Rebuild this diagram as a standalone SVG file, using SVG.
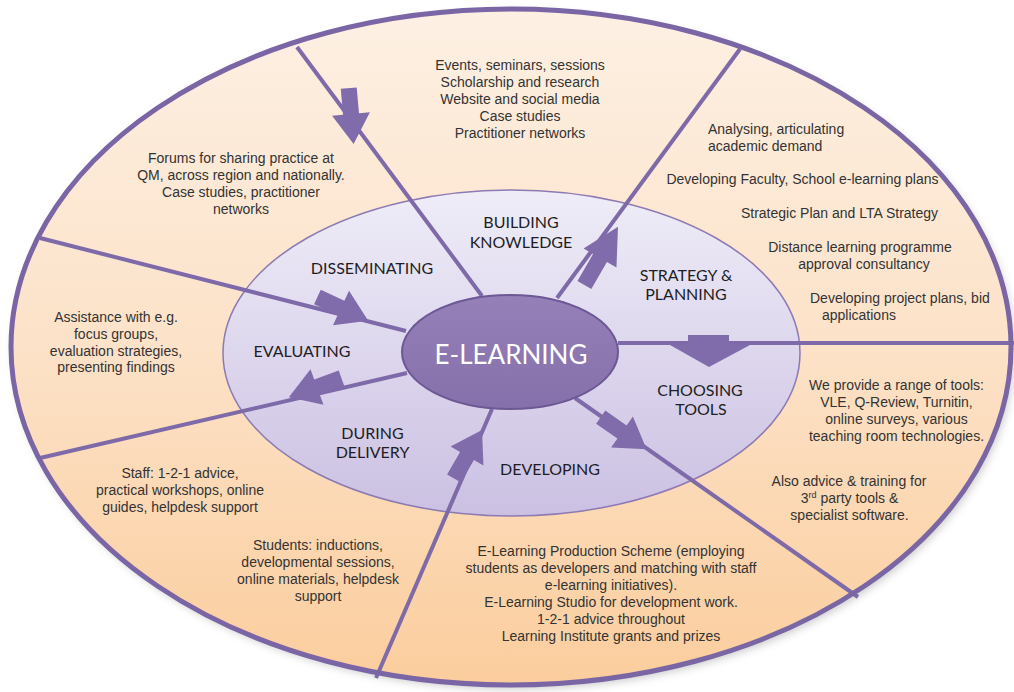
<svg xmlns="http://www.w3.org/2000/svg" width="1014" height="692" viewBox="0 0 1014 692">
<defs>
  <linearGradient id="peach" x1="0" y1="0" x2="0" y2="1">
    <stop offset="0" stop-color="#fdf0e3"/>
    <stop offset="0.5" stop-color="#fce2c8"/>
    <stop offset="1" stop-color="#fbcd9d"/>
  </linearGradient>
  <linearGradient id="lav" x1="0" y1="0" x2="0" y2="1">
    <stop offset="0" stop-color="#efedf8"/>
    <stop offset="1" stop-color="#cbc0e2"/>
  </linearGradient>
  <linearGradient id="core" x1="0" y1="0" x2="0" y2="1">
    <stop offset="0" stop-color="#9580b8"/>
    <stop offset="1" stop-color="#8570ab"/>
  </linearGradient>
  <filter id="blur" x="-10%" y="-10%" width="120%" height="120%">
    <feGaussianBlur stdDeviation="4"/>
  </filter>
  <path id="arrow" d="M -26,-8 L 0,-8 L 0,-19 L 30,0 L 0,19 L 0,8 L -26,8 Z"/>
  <style>
    .spoke { stroke: #7e69a9; stroke-width: 4; fill: none; stroke-linecap: butt; }
    .arr { fill: #806bab; }
    .lbl { font-family: Lato, "Open Sans", "DejaVu Sans", sans-serif; font-size: 16px; fill: #1e1e24; text-anchor: middle; }
    .txt { font-family: "Liberation Sans", Arial, sans-serif; font-size: 14px; fill: #333333; text-anchor: middle; }
    .lft { text-anchor: start; }
    .core { font-family: Lato, "Open Sans", sans-serif; font-size: 26px; fill: #ffffff; text-anchor: middle; }
  </style>
</defs>

<rect x="0" y="0" width="1014" height="692" fill="#ffffff"/>

<g id="outer-ring">
  <ellipse cx="514" cy="351" rx="500" ry="338" fill="#8a8a8a" opacity="0.45" filter="url(#blur)"/>
  <ellipse cx="511" cy="347" rx="500" ry="338" fill="url(#peach)"/>
</g>

<g id="middle-ring">
  <ellipse cx="511.5" cy="353" rx="288.5" ry="163" fill="url(#lav)" stroke="#8d7ab3" stroke-width="1.5"/>
</g>

<g id="connectors">
  <line class="spoke" x1="482" y1="296" x2="297" y2="47"/>
  <line class="spoke" x1="406" y1="331" x2="40" y2="238"/>
  <line class="spoke" x1="407" y1="373" x2="40" y2="458"/>
  <line class="spoke" x1="492" y1="409" x2="376" y2="678"/>
  <line class="spoke" x1="575" y1="398" x2="858" y2="597"/>
  <line class="spoke" x1="618" y1="343" x2="1014" y2="343"/>
  <line class="spoke" x1="557" y1="298" x2="740" y2="49"/>
  <use href="#arrow" class="arr" transform="translate(351,114) rotate(85)"/>
  <use href="#arrow" class="arr" transform="translate(341,308) rotate(25)"/>
  <use href="#arrow" class="arr" transform="translate(317,387) rotate(160)"/>
  <use href="#arrow" class="arr" transform="translate(467,456) rotate(-60)"/>
  <use href="#arrow" class="arr" transform="translate(622,432) rotate(35)"/>
  <use href="#arrow" class="arr" transform="translate(600,258) rotate(-60) scale(1.2,1)"/>
  <polygon class="arr" points="688,335 729,335 729,345 750,345 709,367 670,345 688,345"/>
</g>

<g id="outer-border">
  <ellipse cx="511" cy="347" rx="500" ry="338" fill="none" stroke="#7a65a5" stroke-width="5"/>
</g>

<g id="e-learning">
  <ellipse cx="510" cy="352" rx="108" ry="57" fill="url(#core)" stroke="#6c5894" stroke-width="2"/>
  <text class="core" x="511" y="364">E-LEARNING</text>
</g>

<g id="building-knowledge">
  <text class="lbl" x="521" y="228">BUILDING</text>
  <text class="lbl" x="521" y="248">KNOWLEDGE</text>
  <text class="txt" x="520" y="69.5">Events, seminars, sessions</text>
  <text class="txt" x="520" y="86.7">Scholarship and research</text>
  <text class="txt" x="520" y="103.9">Website and social media</text>
  <text class="txt" x="520" y="121.1">Case studies</text>
  <text class="txt" x="520" y="138.3">Practitioner networks</text>
</g>

<g id="strategy-planning">
  <text class="lbl" x="686" y="281">STRATEGY &amp;</text>
  <text class="lbl" x="686" y="300">PLANNING</text>
  <text class="txt lft" x="708" y="133.5">Analysing, articulating</text>
  <text class="txt lft" x="708" y="150.5">academic demand</text>
  <text class="txt" x="802.5" y="184">Developing Faculty, School e-learning plans</text>
  <text class="txt" x="839.5" y="217.7">Strategic Plan and LTA Strategy</text>
  <text class="txt" x="860" y="252.3">Distance learning programme</text>
  <text class="txt" x="864" y="269.3">approval consultancy</text>
  <text class="txt lft" x="810" y="303.3">Developing project plans, bid</text>
  <text class="txt lft" x="822" y="320.3">applications</text>
</g>

<g id="choosing-tools">
  <text class="lbl" x="700" y="396">CHOOSING</text>
  <text class="lbl" x="701" y="415">TOOLS</text>
  <text class="txt" x="896.5" y="390.3">We provide a range of tools:</text>
  <text class="txt" x="896.5" y="407.3">VLE, Q-Review, Turnitin,</text>
  <text class="txt" x="896.5" y="424.3">online surveys, various</text>
  <text class="txt" x="896.5" y="441.3">teaching room technologies.</text>
  <text class="txt" x="849" y="485.5">Also advice &amp; training for</text>
  <text class="txt" x="849.5" y="502.5">3<tspan font-size="9" dy="-5">rd</tspan><tspan dy="5"> party tools &amp;</tspan></text>
  <text class="txt" x="849.5" y="519.5">specialist software.</text>
</g>

<g id="developing">
  <text class="lbl" x="550" y="475">DEVELOPING</text>
  <text class="txt" x="611" y="556">E-Learning Production Scheme (employing</text>
  <text class="txt" x="611" y="573">students as developers and matching with staff</text>
  <text class="txt" x="611" y="590">e-learning initiatives).</text>
  <text class="txt" x="611" y="607">E-Learning Studio for development work.</text>
  <text class="txt" x="611" y="624">1-2-1 advice throughout</text>
  <text class="txt" x="611" y="641">Learning Institute grants and prizes</text>
</g>

<g id="during-delivery">
  <text class="lbl" x="372.5" y="439">DURING</text>
  <text class="lbl" x="372.5" y="458">DELIVERY</text>
  <text class="txt" x="180" y="478">Staff: 1-2-1 advice,</text>
  <text class="txt" x="180" y="495">practical workshops, online</text>
  <text class="txt" x="180" y="512">guides, helpdesk support</text>
  <text class="txt" x="318" y="550">Students: inductions,</text>
  <text class="txt" x="318" y="567">developmental sessions,</text>
  <text class="txt" x="318" y="584">online materials, helpdesk</text>
  <text class="txt" x="318" y="601">support</text>
</g>

<g id="evaluating">
  <text class="lbl" x="302" y="357">EVALUATING</text>
  <text class="txt" x="116" y="322">Assistance with e.g.</text>
  <text class="txt" x="116" y="339">focus groups,</text>
  <text class="txt" x="116" y="355.5">evaluation strategies,</text>
  <text class="txt" x="116" y="372">presenting findings</text>
</g>

<g id="disseminating">
  <text class="lbl" x="372" y="274">DISSEMINATING</text>
  <text class="txt" x="241" y="163">Forums for sharing practice at</text>
  <text class="txt" x="241" y="180.2">QM, across region and nationally.</text>
  <text class="txt" x="241" y="197.4">Case studies, practitioner</text>
  <text class="txt" x="241" y="214.4">networks</text>
</g>
</svg>
